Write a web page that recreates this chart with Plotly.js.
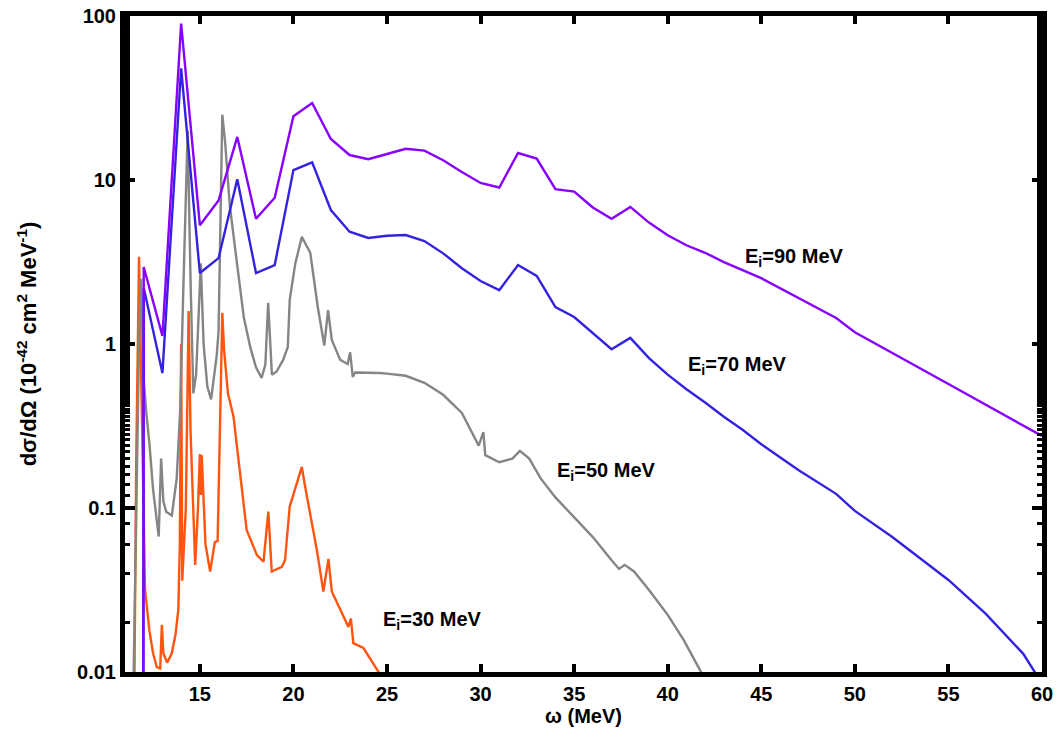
<!DOCTYPE html>
<html>
<head>
<meta charset="utf-8">
<script src="https://cdn.plot.ly/plotly-3.0.1.min.js"></script>
<style>html,body{margin:0;padding:0;background:#fff;}#chart{width:1056px;height:739px;}</style>
</head>
<body>
<div id="chart"></div>
<script>
// E_i = 90 MeV
const w90 = [11.98, 12, 13, 14, 15, 16, 17, 18, 19, 20, 21, 22, 23, 24, 25, 26, 27, 28, 29, 30, 31, 32, 33, 34, 35, 36, 37, 38, 39, 40, 41, 42, 43, 44, 45, 49, 50, 55, 60];
const s90 = [0.005, 2.95, 1.12, 90, 5.3, 7.5, 18.3, 5.8, 7.8, 24.5, 29.5, 17.8, 14.2, 13.4, 14.4, 15.5, 15.1, 13.2, 11.2, 9.6, 9.0, 14.6, 13.5, 8.8, 8.5, 6.8, 5.8, 6.85, 5.5, 4.6, 4.0, 3.6, 3.16, 2.83, 2.52, 1.44, 1.18, 0.57, 0.275];
// E_i = 70 MeV
const w70 = [11.98, 12, 13, 14, 15, 16, 17, 18, 19, 20, 21, 22, 23, 24, 25, 26, 27, 28, 29, 30, 31, 32, 33, 34, 35, 36, 37, 38, 39, 40, 41, 42, 43, 44, 45, 47, 49, 50, 52, 55, 57, 59, 60];
const s70 = [0.005, 2.2, 0.665, 48, 2.71, 3.34, 10.1, 2.71, 3.03, 11.5, 12.8, 6.56, 4.84, 4.43, 4.57, 4.62, 4.24, 3.57, 2.9, 2.42, 2.13, 3.03, 2.6, 1.68, 1.46, 1.17, 0.93, 1.09, 0.82, 0.65, 0.53, 0.44, 0.36, 0.30, 0.245, 0.17, 0.122, 0.096, 0.0665, 0.0364, 0.0226, 0.0129, 0.0085];
// E_i = 50 MeV
const w50 = [11.45, 11.6, 11.75, 11.85, 11.92, 12.0, 12.15, 12.3, 12.5, 12.65, 12.8, 12.93, 13.05, 13.2, 13.5, 13.76, 13.95, 14.15, 14.35, 14.5, 14.65, 14.8, 14.95, 15.05, 15.2, 15.4, 15.6, 15.8, 15.9, 16.0, 16.1, 16.2, 16.35, 16.6, 16.9, 17.15, 17.35, 17.7, 18.0, 18.3, 18.5, 18.65, 18.85, 19.1, 19.45, 19.7, 19.8, 20.1, 20.45, 20.9, 21.3, 21.65, 21.85, 22.05, 22.5, 22.9, 23.03, 23.17, 23.3, 24.6, 25, 26, 27, 28, 29, 29.9, 30.15, 30.25, 31, 31.7, 32.1, 32.6, 33.2, 34, 35, 36, 37, 37.4, 37.7, 38.2, 39, 40, 40.85, 41.75, 42];
const s50 = [0.008, 0.1, 1.0, 2.5, 1.2, 0.6, 0.37, 0.25, 0.13, 0.09, 0.067, 0.2, 0.11, 0.095, 0.09, 0.15, 0.4, 3, 20, 2.5, 0.5, 0.65, 1.5, 3.1, 1.0, 0.55, 0.46, 0.7, 0.85, 1.2, 5, 25, 17, 7, 3.7, 2.2, 1.45, 0.95, 0.72, 0.62, 0.75, 1.78, 0.65, 0.68, 0.8, 0.96, 1.85, 3.1, 4.5, 3.6, 1.68, 0.98, 1.61, 1.06, 0.8, 0.755, 0.89, 0.63, 0.67, 0.665, 0.66, 0.64, 0.58, 0.49, 0.38, 0.24, 0.29, 0.21, 0.19, 0.2, 0.223, 0.2, 0.152, 0.116, 0.088, 0.0665, 0.048, 0.0425, 0.045, 0.041, 0.0316, 0.0223, 0.0157, 0.01, 0.009];
// E_i = 30 MeV
const w30 = [11.5, 11.6, 11.75, 11.85, 11.95, 12.07, 12.3, 12.5, 12.7, 12.88, 12.97, 13.05, 13.25, 13.5, 13.7, 13.85, 13.93, 14.0, 14.06, 14.25, 14.4, 14.5, 14.75, 14.9, 15.0, 15.05, 15.1, 15.3, 15.55, 15.8, 15.95, 16.05, 16.2, 16.3, 16.5, 16.8, 17.25, 17.5, 18.05, 18.4, 18.66, 18.84, 19.38, 19.55, 19.8, 20.18, 20.45, 20.6, 21.25, 21.6, 21.87, 22.05, 22.5, 22.94, 23.07, 23.2, 23.74, 24.55, 24.7];
const s30 = [0.008, 0.2, 3.4, 0.8, 0.15, 0.032, 0.018, 0.013, 0.0107, 0.0105, 0.0194, 0.013, 0.0114, 0.013, 0.017, 0.024, 0.06, 1.0, 0.036, 0.1, 1.59, 0.3, 0.045, 0.1, 0.213, 0.12, 0.21, 0.06, 0.041, 0.062, 0.063, 0.2, 1.55, 0.9, 0.5, 0.36, 0.129, 0.0735, 0.0516, 0.047, 0.095, 0.041, 0.0438, 0.048, 0.102, 0.142, 0.178, 0.14, 0.0555, 0.0309, 0.049, 0.031, 0.024, 0.0188, 0.0212, 0.015, 0.014, 0.01, 0.009];

const xTicks = [15, 20, 25, 30, 35, 40, 45, 50, 55, 60];
const yTicks = [0.01, 0.1, 1, 10, 100];
const yTickText = ['0.01', '0.1', '1', '10', '100'];

const FONT = 'Liberation Sans, Arial, sans-serif';
const lw = 2.4;
const traces = [
  {x: w30, y: s30, mode: 'lines', line: {color: '#ff5511', width: lw}, name: '30'},
  {x: w50, y: s50, mode: 'lines', line: {color: '#858585', width: lw}, name: '50'},
  {x: w70, y: s70, mode: 'lines', line: {color: '#3322e0', width: lw}, name: '70'},
  {x: w90, y: s90, mode: 'lines', line: {color: '#8800ff', width: lw}, name: '90'}
];

const annFont = {family: FONT, size: 20, color: '#000', weight: 'bold'};
const layout = {
  width: 1056, height: 739,
  margin: {l: 125, r: 14, t: 16, b: 67},
  paper_bgcolor: '#fff', plot_bgcolor: '#fff',
  showlegend: false,
  font: {family: FONT, size: 20, color: '#000', weight: 'bold'},
  xaxis: {
    range: [11, 60], tickvals: xTicks, ticktext: xTicks.map(String),
    ticks: 'inside', ticklen: 8, tickwidth: 4, tickcolor: '#000',
    showline: true, linewidth: 5, linecolor: '#000', mirror: 'ticks',
    showgrid: false, zeroline: false,
    tickfont: {family: FONT, size: 20, weight: 'bold'},
    title: {text: 'ω (MeV)', font: {family: FONT, size: 20, weight: 'bold'}, standoff: 6}
  },
  yaxis: {
    type: 'log', range: [-2, 2], tickvals: yTicks, ticktext: yTickText,
    ticks: 'inside', ticklen: 10, tickwidth: 4, tickcolor: '#000',
    minor: {ticks: 'inside', ticklen: 5, tickwidth: 3, tickcolor: '#000', showgrid: false},
    showline: true, linewidth: 5, linecolor: '#000', mirror: 'ticks',
    showgrid: false, zeroline: false,
    tickfont: {family: FONT, size: 20, weight: 'bold'},
    title: {text: 'dσ/dΩ (10<sup>-42</sup> cm<sup>2</sup> MeV<sup>-1</sup>)', font: {family: FONT, size: 22, weight: 'bold'}, standoff: 36}
  },
  annotations: [
    {x: 44.0, y: 0.53, xref: 'x', yref: 'y', text: 'E<sub>i</sub>=90 MeV', showarrow: false, xanchor: 'left', yanchor: 'middle', font: annFont},
    {x: 41.0, y: -0.134, xref: 'x', yref: 'y', text: 'E<sub>i</sub>=70 MeV', showarrow: false, xanchor: 'left', yanchor: 'middle', font: annFont},
    {x: 34.0, y: -0.78, xref: 'x', yref: 'y', text: 'E<sub>i</sub>=50 MeV', showarrow: false, xanchor: 'left', yanchor: 'middle', font: annFont},
    {x: 24.7, y: -1.683, xref: 'x', yref: 'y', text: 'E<sub>i</sub>=30 MeV', showarrow: false, xanchor: 'left', yanchor: 'middle', font: annFont}
  ]
};

Plotly.newPlot('chart', traces, layout, {displayModeBar: false, staticPlot: true});
</script>
</body>
</html>
